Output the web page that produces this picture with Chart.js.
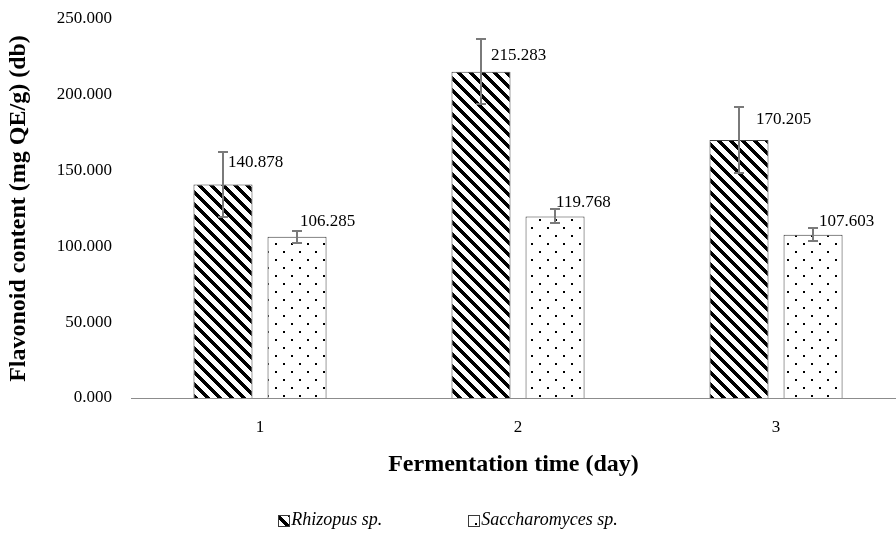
<!DOCTYPE html>
<html>
<head>
<meta charset="utf-8">
<script src="https://cdn.jsdelivr.net/npm/chart.js@4.4.1/dist/chart.umd.min.js"></script>
<style>
  html, body { margin: 0; padding: 0; background: #ffffff; overflow: hidden; }
  #wrap { width: 896px; height: 545px; position: relative; }
</style>
</head>
<body>
<div id="wrap"><canvas id="c"></canvas></div>
<script>
// ---- data ----
const days = [1, 2, 3];
const rhizopusValues = [140.878, 215.283, 170.205];
const rhizopusErrors = [21.6, 21.4, 21.5];
const saccharomycesValues = [106.285, 119.768, 107.603];
const saccharomycesErrors = [4.2, 4.6, 4.3];
const seriesNames = ['Rhizopus sp.', 'Saccharomyces sp.'];
const yTicks = [0, 50, 100, 150, 200, 250];
const xTitle = 'Fermentation time (day)';
const yTitle = 'Flavonoid content (mg QE/g) (db)';

// ---- patterns ----
function stripePattern() {
  const c = document.createElement('canvas');
  const n = 12; c.width = n; c.height = n;
  const g = c.getContext('2d');
  const img = g.createImageData(n, n);
  for (let y = 0; y < n; y++) for (let x = 0; x < n; x++) {
    const k = (y * n + x) * 4;
    const black = (((x - y) % n) + n) % n < 5;
    const v = black ? 0 : 255;
    img.data[k] = v; img.data[k+1] = v; img.data[k+2] = v; img.data[k+3] = 255;
  }
  g.putImageData(img, 0, 0);
  return g.createPattern(c, 'repeat');
}
function dotPattern() {
  const c = document.createElement('canvas');
  c.width = 16; c.height = 16;
  const g = c.getContext('2d');
  g.fillStyle = '#ffffff'; g.fillRect(0, 0, 16, 16);
  g.fillStyle = '#000000';
  g.fillRect(3, 3, 2, 2);
  g.fillRect(11, 11, 2, 2);
  return g.createPattern(c, 'repeat');
}
const ctx = document.getElementById('c').getContext('2d');
const stripes = stripePattern();
const dots = dotPattern();

const FONT = "'Liberation Serif', 'Times New Roman', serif";

const errorBarsPlugin = {
  id: 'errorBars',
  afterDatasetsDraw(chart, args, opts) {
    const g = chart.ctx;
    const y = chart.scales.y;
    g.save();
    g.strokeStyle = opts.color;
    g.lineWidth = opts.width;
    chart.data.datasets.forEach((ds, di) => {
      const meta = chart.getDatasetMeta(di);
      meta.data.forEach((el, i) => {
        const v = ds.data[i].y, e = ds.errors[i];
        const yt = Math.round(y.getPixelForValue(v + e));
        const yb = Math.round(y.getPixelForValue(v - e));
        const x = Math.round(el.x);
        g.beginPath();
        g.moveTo(x, yt); g.lineTo(x, yb);
        g.moveTo(x - opts.cap, yt); g.lineTo(x + opts.cap, yt);
        g.moveTo(x - opts.cap, yb); g.lineTo(x + opts.cap, yb);
        g.stroke();
      });
    });
    g.restore();
  }
};

const valueLabelsPlugin = {
  id: 'valueLabels',
  afterDatasetsDraw(chart, args, opts) {
    const g = chart.ctx;
    g.save();
    g.font = opts.font;
    g.fillStyle = opts.color;
    g.textAlign = 'left';
    g.textBaseline = 'middle';
    chart.data.datasets.forEach((ds, di) => {
      const meta = chart.getDatasetMeta(di);
      meta.data.forEach((el, i) => {
        const txt = ds.data[i].y.toFixed(3);
        g.fillText(txt, el.x + opts.dx[di][i], el.y + opts.dy[di][i]);
      });
    });
    g.restore();
  }
};

// legend drawn from the datasets, laid out with a wide gap like the original
const wideLegendPlugin = {
  id: 'wideLegend',
  afterDraw(chart, args, opts) {
    const g = chart.ctx;
    g.save();
    g.font = opts.font;
    g.textBaseline = 'middle';
    g.textAlign = 'left';
    const items = chart.data.datasets.map(ds => ({
      text: ds.label, fill: ds.backgroundColor, stroke: ds.borderColor,
      w: opts.box + opts.textGap + g.measureText(ds.label).width
    }));
    const total = items.reduce((s, it) => s + it.w, 0) + opts.itemGap * (items.length - 1);
    let x = chart.width / 2 - total / 2;
    const yc = opts.y;
    items.forEach(it => {
      const bx = Math.round(x) + 0.5, by = Math.round(yc - opts.box / 2) + 0.5;
      g.fillStyle = it.fill;
      g.fillRect(bx, by, opts.box, opts.box);
      g.strokeStyle = it.stroke;
      g.lineWidth = 1;
      g.strokeRect(bx, by, opts.box, opts.box);
      g.fillStyle = '#000000';
      g.fillText(it.text, x + opts.box + opts.textGap, yc);
      x += it.w + opts.itemGap;
    });
    g.restore();
  }
};

new Chart(ctx, {
  type: 'bar',
  data: {
    datasets: [
      {
        label: seriesNames[0],
        data: days.map((d, i) => ({ x: d, y: rhizopusValues[i] })),
        errors: rhizopusErrors,
        backgroundColor: stripes,
        borderColor: '#3a3a3a',
        borderWidth: 1,
        categoryPercentage: 0.574,
        barPercentage: 0.797
      },
      {
        label: seriesNames[1],
        data: days.map((d, i) => ({ x: d, y: saccharomycesValues[i] })),
        errors: saccharomycesErrors,
        backgroundColor: dots,
        borderColor: '#3a3a3a',
        borderWidth: 1,
        categoryPercentage: 0.574,
        barPercentage: 0.797
      }
    ]
  },
  options: {
    responsive: true,
    maintainAspectRatio: false,
    animation: false,
    devicePixelRatio: 1,
    layout: { padding: { top: 19, right: 0, bottom: 0, left: 0 } },
    scales: {
      x: {
        type: 'linear',
        offset: false,
        min: 0.5,
        max: 3.465,
        afterBuildTicks(scale) { scale.ticks = days.map(d => ({ value: d })); },
        afterFit(scale) { scale.height = 147; scale.paddingLeft = 0; scale.paddingRight = 0; },
        grid: { display: false, drawTicks: false, offset: false },
        border: { display: true, color: '#8c8c8c', width: 1 },
        ticks: {
          padding: 19,
          color: '#000000',
          font: { family: FONT, size: 17 },
          callback: v => String(v)
        },
        title: {
          display: true,
          text: xTitle,
          color: '#000000',
          font: { family: FONT, size: 24, weight: 'bold' },
          padding: { top: 0, bottom: 66 }
        }
      },
      y: {
        min: 0,
        max: 250,
        afterBuildTicks(scale) { scale.ticks = yTicks.map(v => ({ value: v })); },
        afterFit(scale) { scale.width = 131; scale.paddingTop = 0; scale.paddingBottom = 0; },
        grid: { display: false, drawTicks: false },
        border: { display: false },
        ticks: {
          padding: 19,
          color: '#000000',
          font: { family: FONT, size: 17 },
          callback: v => Number(v).toFixed(3)
        },
        title: {
          display: true,
          text: yTitle,
          color: '#000000',
          font: { family: FONT, size: 24, weight: 'bold' },
          padding: { top: 4, bottom: 0 }
        }
      }
    },
    plugins: {
      legend: { display: false },
      tooltip: { enabled: false },
      errorBars: { color: '#7a7a7a', width: 2, cap: 5 },
      valueLabels: {
        font: "17px 'Liberation Serif', 'Times New Roman', serif",
        color: '#000000',
        dx: [[5, 10, 17], [3, 1, 6]],
        dy: [[-22, -16, -20], [-15, -14, -13]]
      },
      wideLegend: {
        font: "italic 18px 'Liberation Serif', 'Times New Roman', serif",
        box: 11,
        textGap: 2,
        itemGap: 86,
        y: 520
      }
    }
  },
  plugins: [errorBarsPlugin, valueLabelsPlugin, wideLegendPlugin]
});
</script>
</body>
</html>
